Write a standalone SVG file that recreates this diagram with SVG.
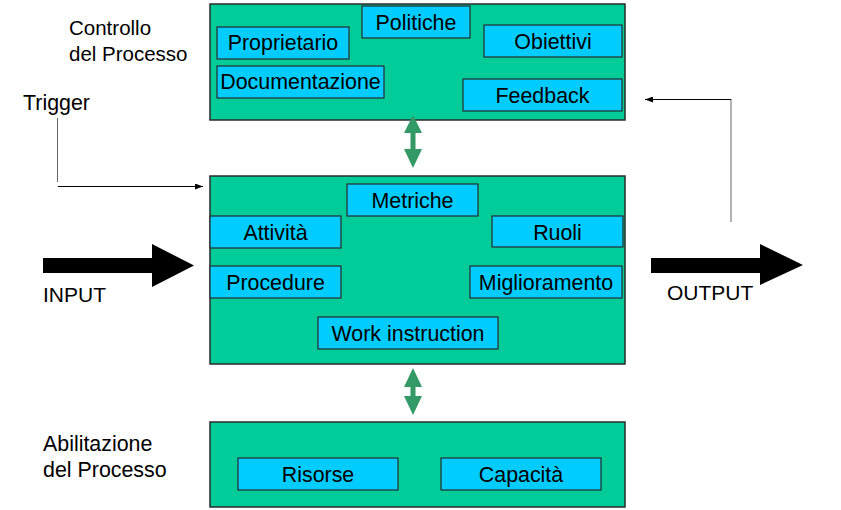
<svg xmlns="http://www.w3.org/2000/svg" width="841" height="510" viewBox="0 0 841 510">
<style>
.outer{fill:#00CC99;stroke:#2b2b2b;stroke-width:1.5}
.inner{fill:#00CCFF;stroke:#2b2b2b;stroke-width:1.2}
.t{font-family:"Liberation Sans",Arial,sans-serif;font-size:21.4px;fill:#000;text-anchor:middle}
.lbl{font-family:"Liberation Sans",Arial,sans-serif;font-size:20.5px;fill:#000}
.lbl21{font-family:"Liberation Sans",Arial,sans-serif;font-size:21px;fill:#000}
.lblb{font-family:"Liberation Sans",Arial,sans-serif;font-size:21.4px;fill:#000}
.dbl{fill:#339966}
.big{fill:#000}
</style>
<defs>
<marker id="ah" markerWidth="8" markerHeight="6" refX="8" refY="3" orient="auto" markerUnits="userSpaceOnUse">
<path d="M0,0 L8,3 L0,6 Z" fill="#000"/>
</marker>
</defs>
<rect width="841" height="510" fill="#fff"/>

<g id="labels">
<text class="lbl" x="69" y="35">Controllo</text>
<text class="lbl" x="69" y="61">del Processo</text>
<text class="lblb" x="23" y="110">Trigger</text>
<text class="lbl21" x="43" y="302">INPUT</text>
<text class="lbl21" x="667" y="300">OUTPUT</text>
<text class="lblb" x="43" y="451">Abilitazione</text>
<text class="lblb" x="43" y="477">del Processo</text>
</g>

<g id="controllo">
<rect class="outer" x="210" y="4" width="415" height="116"/>
<g id="politiche"><rect class="inner" x="362" y="6" width="108" height="32"/><text class="t" x="416" y="29.5">Politiche</text></g>
<g id="proprietario"><rect class="inner" x="217" y="27" width="132" height="32"/><text class="t" x="283" y="50">Proprietario</text></g>
<g id="obiettivi"><rect class="inner" x="484" y="25" width="138" height="32"/><text class="t" x="553" y="48.5">Obiettivi</text></g>
<g id="documentazione"><rect class="inner" x="217" y="66" width="167" height="32"/><text class="t" x="300.5" y="89">Documentazione</text></g>
<g id="feedback"><rect class="inner" x="463" y="79" width="159" height="32"/><text class="t" x="542.5" y="102.5">Feedback</text></g>
</g>

<g id="processo">
<rect class="outer" x="210" y="176" width="415" height="188"/>
<g id="metriche"><rect class="inner" x="347" y="184" width="131" height="32"/><text class="t" x="412.5" y="207.5">Metriche</text></g>
<g id="attivita"><rect class="inner" x="210" y="216" width="131" height="32"/><text class="t" x="275.5" y="239.5">Attività</text></g>
<g id="ruoli"><rect class="inner" x="492" y="216" width="131" height="31"/><text class="t" x="557.5" y="239.5">Ruoli</text></g>
<g id="procedure"><rect class="inner" x="210" y="266" width="131" height="32"/><text class="t" x="275.5" y="289.5">Procedure</text></g>
<g id="miglioramento"><rect class="inner" x="470" y="266" width="152" height="32"/><text class="t" x="546" y="289.5">Miglioramento</text></g>
<g id="work"><rect class="inner" x="318" y="317" width="180" height="32"/><text class="t" x="408" y="340.5">Work instruction</text></g>
</g>

<g id="abilitazione">
<rect class="outer" x="210" y="422" width="415" height="85"/>
<g id="risorse"><rect class="inner" x="238" y="458" width="160" height="32"/><text class="t" x="318" y="481.5">Risorse</text></g>
<g id="capacita"><rect class="inner" x="441" y="458" width="160" height="32"/><text class="t" x="521" y="481.5">Capacità</text></g>
</g>

<g id="connectors">
<polygon class="dbl" points="413,115 422,133 415.5,133 415.5,149 422,149 413,168 404,149 410.5,149 410.5,133 404,133"/>
<polygon class="dbl" points="413,368 422,387 415.5,387 415.5,396 422,396 413,415 404,396 410.5,396 410.5,387 404,387"/>
<polygon class="big" points="43,258 152,258 152,244 194,265.5 152,287 152,273 43,273"/>
<polygon class="big" points="651,258 760,258 760,244 803,265 760,285 760,273 651,273"/>
<line x1="57.5" y1="118" x2="57.5" y2="182" stroke="#666" stroke-width="1"/>
<line x1="58" y1="186.5" x2="203" y2="186.5" stroke="#000" stroke-width="1" marker-end="url(#ah)"/>
<line x1="731" y1="222" x2="731" y2="99" stroke="#666" stroke-width="1"/>
<line x1="731" y1="99.5" x2="645" y2="99.5" stroke="#000" stroke-width="1" marker-end="url(#ah)"/>
</g>
</svg>
